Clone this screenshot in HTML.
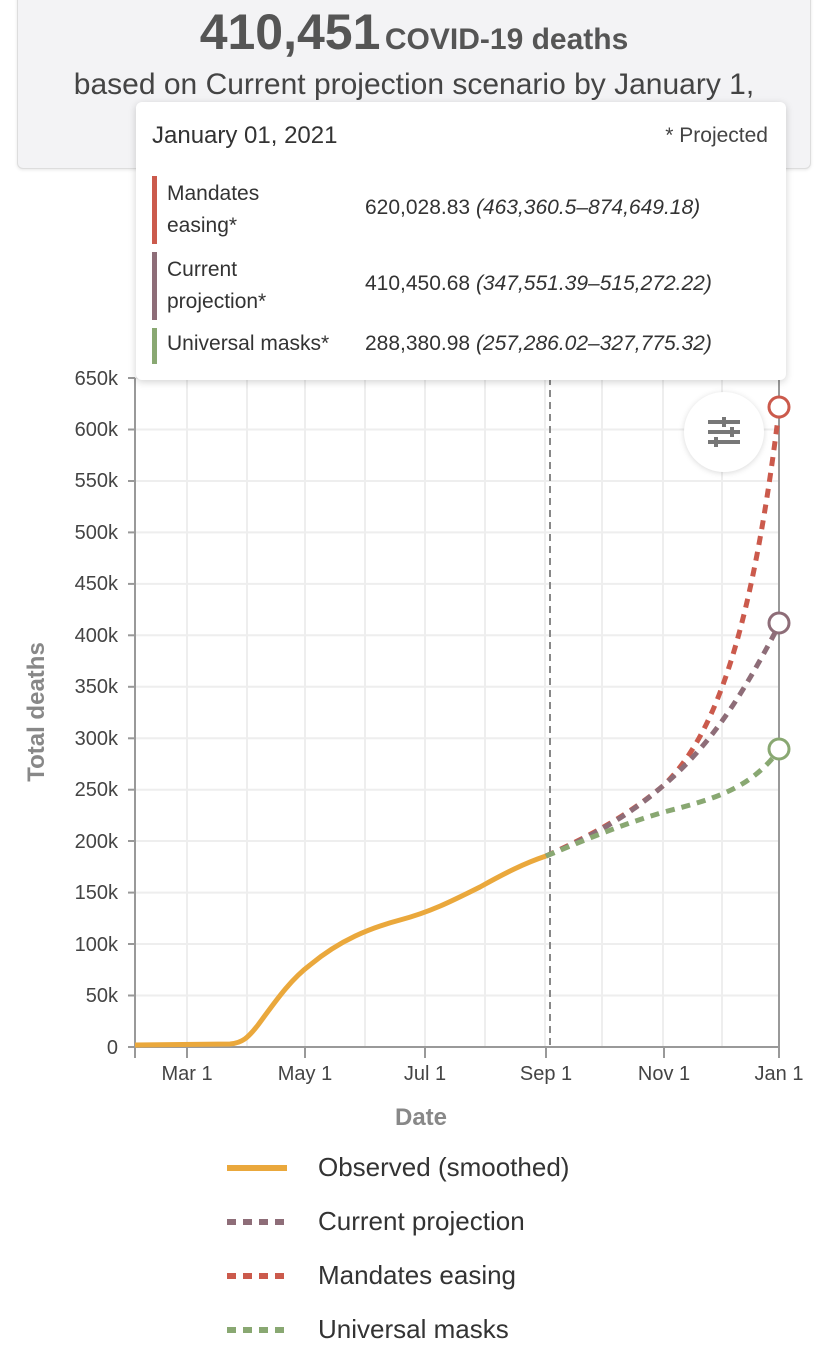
<!DOCTYPE html>
<html><head><meta charset="utf-8"><style>
body{margin:0;width:828px;height:1350px;background:#fff;font-family:"Liberation Sans",sans-serif;position:relative;overflow:hidden;color:#444}
.card{position:absolute;left:17px;top:-10px;width:792px;height:177px;background:#f3f3f5;border:1px solid #ddd;border-radius:6px;box-shadow:0 1px 3px rgba(0,0,0,.1)}
.t1{position:absolute;top:3px;left:0;width:828px;text-align:center;color:#555;font-weight:bold}
.t2{position:absolute;top:68px;left:0;width:828px;text-align:center;font-size:30px;color:#444}
.tip{position:absolute;left:136px;top:102px;width:650px;height:278px;background:#fff;border-radius:6px;box-shadow:0 2px 8px rgba(0,0,0,.18)}
.tip .r{position:absolute;font-size:21px;color:#333}
.bar{position:absolute;left:16px;width:5px}
</style></head><body>
<div class="card"></div>
<div class="t1"><span style="font-size:50px">410,451</span> <span style="font-size:30px">COVID-19 deaths</span></div>
<div class="t2">based on Current projection scenario by January 1,</div>
<svg width="828" height="1350" style="position:absolute;left:0;top:0">
<g stroke="#eee" stroke-width="2">
<line x1="135" y1="1047" x2="779" y2="1047"/>
<line x1="135" y1="995.5" x2="779" y2="995.5"/><line x1="135" y1="944" x2="779" y2="944"/><line x1="135" y1="892.6" x2="779" y2="892.6"/><line x1="135" y1="841" x2="779" y2="841"/><line x1="135" y1="789.7" x2="779" y2="789.7"/><line x1="135" y1="738.3" x2="779" y2="738.3"/><line x1="135" y1="686.8" x2="779" y2="686.8"/><line x1="135" y1="635.3" x2="779" y2="635.3"/><line x1="135" y1="583.9" x2="779" y2="583.9"/><line x1="135" y1="532.4" x2="779" y2="532.4"/><line x1="135" y1="481" x2="779" y2="481"/><line x1="135" y1="429.5" x2="779" y2="429.5"/><line x1="135" y1="378" x2="779" y2="378"/>
<line x1="187" y1="378" x2="187" y2="1047"/><line x1="247" y1="378" x2="247" y2="1047"/><line x1="305" y1="378" x2="305" y2="1047"/><line x1="365" y1="378" x2="365" y2="1047"/><line x1="425" y1="378" x2="425" y2="1047"/><line x1="485" y1="378" x2="485" y2="1047"/><line x1="545" y1="378" x2="545" y2="1047"/><line x1="602" y1="378" x2="602" y2="1047"/><line x1="663" y1="378" x2="663" y2="1047"/><line x1="722" y1="378" x2="722" y2="1047"/>
</g>
<g stroke="#999" stroke-width="2">
<line x1="135" y1="378" x2="135" y2="1047"/>
<line x1="128" y1="1047" x2="779" y2="1047"/>
<line x1="779" y1="378" x2="779" y2="1058"/>
<line x1="135" y1="1047" x2="135" y2="1058"/><line x1="187" y1="1047" x2="187" y2="1058"/><line x1="305" y1="1047" x2="305" y2="1058"/><line x1="425" y1="1047" x2="425" y2="1058"/><line x1="546" y1="1047" x2="546" y2="1058"/><line x1="664" y1="1047" x2="664" y2="1058"/>
</g>
<g stroke="#999" stroke-width="2">
<line x1="128" y1="995.5" x2="135" y2="995.5"/><line x1="128" y1="944" x2="135" y2="944"/><line x1="128" y1="892.6" x2="135" y2="892.6"/><line x1="128" y1="841" x2="135" y2="841"/><line x1="128" y1="789.7" x2="135" y2="789.7"/><line x1="128" y1="738.3" x2="135" y2="738.3"/><line x1="128" y1="686.8" x2="135" y2="686.8"/><line x1="128" y1="635.3" x2="135" y2="635.3"/><line x1="128" y1="583.9" x2="135" y2="583.9"/><line x1="128" y1="532.4" x2="135" y2="532.4"/><line x1="128" y1="481" x2="135" y2="481"/><line x1="128" y1="429.5" x2="135" y2="429.5"/><line x1="128" y1="378" x2="135" y2="378"/>
</g>
<line x1="550" y1="378" x2="550" y2="1047" stroke="#888" stroke-width="2" stroke-dasharray="7,5"/>
<g font-size="20" fill="#444" text-anchor="end">
<text x="118" y="1054">0</text><text x="118" y="1002">50k</text><text x="118" y="951">100k</text><text x="118" y="899">150k</text><text x="118" y="848">200k</text><text x="118" y="796">250k</text><text x="118" y="745">300k</text><text x="118" y="693">350k</text><text x="118" y="642">400k</text><text x="118" y="590">450k</text><text x="118" y="539">500k</text><text x="118" y="487">550k</text><text x="118" y="436">600k</text><text x="118" y="385">650k</text>
</g>
<g font-size="20" fill="#444" text-anchor="middle">
<text x="187" y="1080">Mar 1</text><text x="305" y="1080">May 1</text><text x="425" y="1080">Jul 1</text><text x="546" y="1080">Sep 1</text><text x="664" y="1080">Nov 1</text><text x="779" y="1080">Jan 1</text>
</g>
<text x="421" y="1125" font-size="24" font-weight="bold" fill="#888" text-anchor="middle">Date</text>
<text transform="translate(44,712) rotate(-90)" font-size="24" font-weight="bold" fill="#888" text-anchor="middle">Total deaths</text>
<path d="M135,1045 L230,1044 C242,1043 248,1038 258,1025 C275,1002 290,980 310,965 C340,940 370,928 400,920 C430,912 450,902 480,887 C505,873 525,863 546,856" fill="none" stroke="#eaa83c" stroke-width="5"/>
<path d="M546,856 C580,840 620,822 664,785 C710,740 750,650 779,410" fill="none" stroke="#cb5a4c" stroke-width="5" stroke-dasharray="9,7"/>
<path d="M546,856 C590,838 630,815 664,785 C710,745 740,700 779,625" fill="none" stroke="#8e6d78" stroke-width="5" stroke-dasharray="9,7"/>
<path d="M546,856 C590,838 620,825 664,812 C710,800 750,790 779,750" fill="none" stroke="#89a872" stroke-width="5" stroke-dasharray="9,7"/>
<circle cx="779" cy="407" r="10" fill="#fff" stroke="#cb5a4c" stroke-width="3"/>
<circle cx="779" cy="623" r="10" fill="#fff" stroke="#8e6d78" stroke-width="3"/>
<circle cx="779" cy="749" r="10" fill="#fff" stroke="#89a872" stroke-width="3"/>
<circle cx="724" cy="432" r="40" fill="#fff" style="filter:drop-shadow(0 1px 3px rgba(0,0,0,.15))"/>
<g stroke="#777" stroke-width="4"><line x1="708" y1="422" x2="740" y2="422"/><line x1="708" y1="432" x2="740" y2="432"/><line x1="708" y1="442" x2="740" y2="442"/></g>
<g fill="#777"><rect x="722" y="417" width="4" height="10"/><rect x="730" y="427" width="4" height="10"/><rect x="714" y="437" width="4" height="10"/></g>
<g stroke-width="6"><line x1="227" y1="1168" x2="287" y2="1168" stroke="#eaa83c"/>
<line x1="227" y1="1222" x2="287" y2="1222" stroke="#8e6d78" stroke-dasharray="9,7"/>
<line x1="227" y1="1276" x2="287" y2="1276" stroke="#cb5a4c" stroke-dasharray="9,7"/>
<line x1="227" y1="1330" x2="287" y2="1330" stroke="#89a872" stroke-dasharray="9,7"/></g>
<g font-size="26" fill="#333"><text x="318" y="1176">Observed (smoothed)</text><text x="318" y="1230">Current projection</text><text x="318" y="1284">Mandates easing</text><text x="318" y="1338">Universal masks</text></g>
</svg>
<div class="tip">
<div class="r" style="left:16px;top:20px;font-size:24px">January 01, 2021</div>
<div class="r" style="right:18px;top:22px;color:#444">* Projected</div>
<div class="bar" style="top:74px;height:68px;background:#cb5a4c"></div>
<div class="r" style="left:31px;top:76px;line-height:32px">Mandates<br>easing*</div>
<div class="r" style="left:229px;top:94px">620,028.83 <i>(463,360.5–874,649.18)</i></div>
<div class="bar" style="top:150px;height:68px;background:#8e6d78"></div>
<div class="r" style="left:31px;top:152px;line-height:32px">Current<br>projection*</div>
<div class="r" style="left:229px;top:170px">410,450.68 <i>(347,551.39–515,272.22)</i></div>
<div class="bar" style="top:226px;height:36px;background:#89a872"></div>
<div class="r" style="left:31px;top:230px">Universal masks*</div>
<div class="r" style="left:229px;top:230px">288,380.98 <i>(257,286.02–327,775.32)</i></div>
</div>
</body></html>
